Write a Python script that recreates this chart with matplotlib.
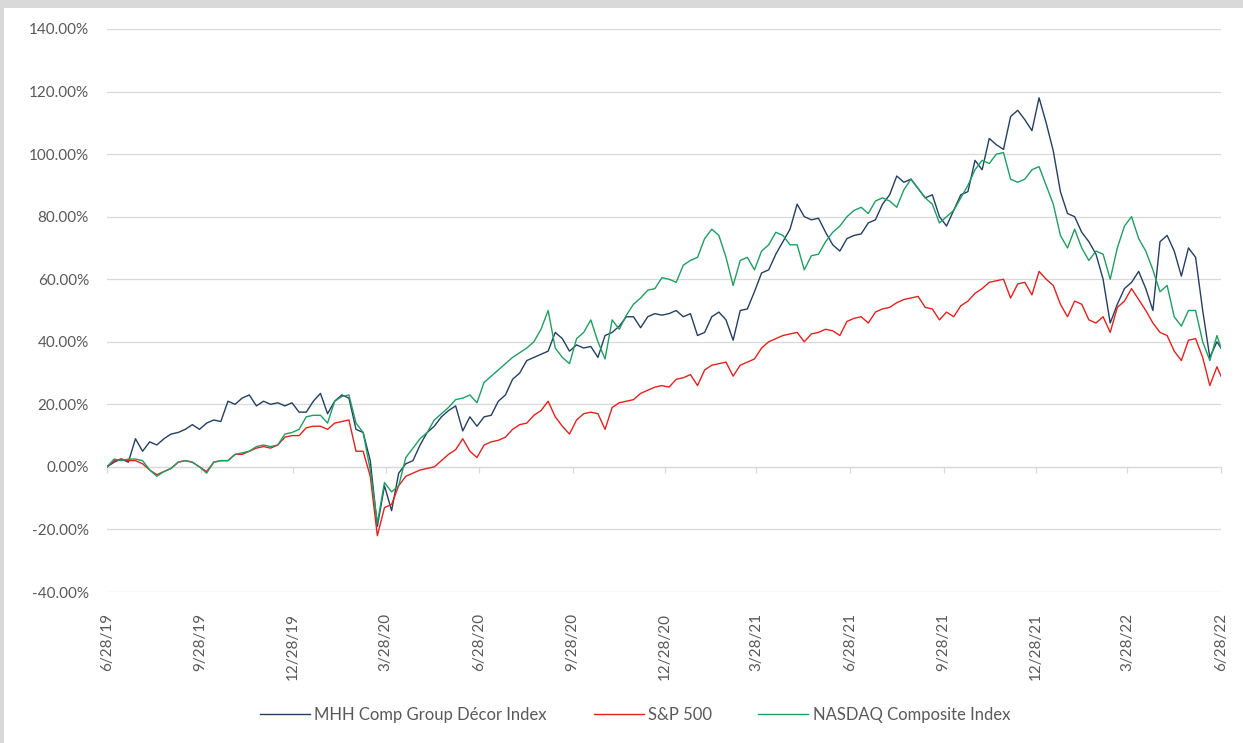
import matplotlib
matplotlib.use("Agg")
import matplotlib.pyplot as plt
from matplotlib.patches import Rectangle
from matplotlib.ticker import FuncFormatter, MultipleLocator
import pandas as pd

# Weekly observations from 6/28/2019, plus the closing point on 6/28/2022
dates = list(pd.date_range("2019-06-28", periods=157, freq="7D")) + [pd.Timestamp("2022-06-28")]

# Cumulative return (%) since 6/28/2019
mhh = [
    0, 1.5, 2.5, 1.5, 9, 5, 8, 7, 9, 10.5,
    11, 12, 13.5, 12, 14, 15, 14.5, 21, 20, 22,
    23, 19.5, 21, 20, 20.5, 19.5, 20.5, 17.5, 17.5, 21,
    23.5, 17, 21, 23, 22, 12, 11, 2, -19, -6,
    -14, -2, 1, 2, 7, 11, 13, 16, 18, 19.5,
    11.5, 16, 13, 16, 16.5, 21, 23, 28, 30, 34,
    35, 36, 37, 43, 41, 37, 39, 38, 38.5, 35,
    42, 43, 45, 48, 48, 44.5, 48, 49, 48.5, 49,
    50, 48, 49, 42, 43, 48, 49.5, 47, 40.5, 50,
    50.5, 56, 62, 63, 68, 72, 76, 84, 80, 79,
    79.5, 75, 71, 69, 73, 74, 74.5, 78, 79, 84,
    87, 93, 91, 92, 89, 86, 87, 80, 77, 82,
    87, 88, 98, 95, 105, 103, 101.5, 112, 114, 111,
    107.5, 118, 110, 101, 88, 81, 80, 75, 72, 68,
    60, 46, 52, 57, 59, 62.5, 57, 50, 72, 74,
    69, 61, 70, 67, 50, 35, 40, 38,
]

sp500 = [
    0, 2, 2.5, 2, 2, 1, -1, -2.5, -1.5, -0.5,
    1.5, 2, 1.5, 0, -1.5, 1.5, 2, 2, 4, 4,
    5, 6, 6.5, 6, 7, 9.5, 10, 10, 12.5, 13,
    13, 12, 14, 14.5, 15, 5, 5, -3, -22, -13,
    -12, -6, -3, -2, -1, -0.5, 0, 2, 4, 5.5,
    9, 5, 3, 7, 8, 8.5, 9.5, 12, 13.5, 14,
    16.5, 18, 21, 16, 13, 10.5, 15, 17, 17.5, 17,
    12, 19, 20.5, 21, 21.5, 23.5, 24.5, 25.5, 26, 25.5,
    28, 28.5, 29.5, 26, 31, 32.5, 33, 33.5, 29, 32.5,
    33.5, 34.5, 38, 40, 41, 42, 42.5, 43, 40, 42.5,
    43, 44, 43.5, 42, 46.5, 47.5, 48, 46, 49.5, 50.5,
    51, 52.5, 53.5, 54, 54.5, 51, 50.5, 47, 49.5, 48,
    51.5, 53, 55.5, 57, 59, 59.5, 60, 54, 58.5, 59,
    55, 62.5, 60, 58, 52, 48, 53, 52, 47, 46,
    48, 43, 51, 53, 57, 53.5, 50, 46, 43, 42,
    37, 34, 40.5, 41, 35, 26, 32, 29,
]

nasdaq = [
    0, 2.5, 2, 2.5, 2.5, 2, -1, -3, -1.5, -0.5,
    1.5, 2, 1.5, 0, -2, 1.5, 2, 2, 4, 4.5,
    5, 6.5, 7, 6.5, 7, 10.5, 11, 12, 16, 16.5,
    16.5, 14, 21, 22.5, 23, 14, 11, -1, -18, -5,
    -8, -6, 3, 6, 9, 11, 15, 17, 19, 21.5,
    22, 23, 20.5, 27, 29, 31, 33, 35, 36.5, 38,
    40, 44, 50, 38, 35, 33, 41, 43, 47, 40,
    34.5, 47, 44, 48.5, 52, 54, 56.5, 57, 60.5, 60,
    59, 64.5, 66, 67, 73, 76, 74, 67, 58, 66,
    67, 63, 69, 71, 75, 74, 71, 71, 63, 67.5,
    68, 72, 75, 77, 80, 82, 83, 81, 85, 86,
    85, 83, 88.6, 92, 89, 86, 84, 78, 80, 82,
    86, 90, 95, 98, 97, 100, 100.5, 92, 91, 92,
    95, 96, 90, 84, 74, 70, 76, 70, 66, 69,
    68, 60, 70, 77, 80, 73, 69, 63, 56, 58,
    48, 45, 50, 50, 40, 34, 42, 38,
]

series_names = ["MHH Comp Group Décor Index", "S&P 500", "NASDAQ Composite Index"]
series_colors = ["#243f63", "#e3211f", "#1f9e62"]

tick_dates = pd.to_datetime([
    "2019-06-28", "2019-09-28", "2019-12-28", "2020-03-28", "2020-06-28",
    "2020-09-28", "2020-12-28", "2021-03-28", "2021-06-28", "2021-09-28",
    "2021-12-28", "2022-03-28", "2022-06-28",
])
tick_labels = [
    "6/28/19", "9/28/19", "12/28/19", "3/28/20", "6/28/20", "9/28/20",
    "12/28/20", "3/28/21", "6/28/21", "9/28/21", "12/28/21", "3/28/22", "6/28/22",
]

plt.rcParams["font.family"] = ["Lato", "DejaVu Sans"]

fig = plt.figure(figsize=(12.43, 7.43), dpi=100, facecolor="#d9d9d9")
# white chart panel inside a thin grey frame on the top and left
fig.patches.append(Rectangle((4 / 1243, 0), 1 - 4 / 1243, 1 - 8 / 743,
                             transform=fig.transFigure, facecolor="white",
                             edgecolor="none", zorder=-5))

ax = fig.add_axes([107 / 1243, 1 - 592 / 743, (1221 - 107) / 1243, (592 - 29) / 743])
ax.set_facecolor("none")

for vals, name, col in zip([mhh, sp500, nasdaq], series_names, series_colors):
    ax.plot(dates, vals, color=col, lw=1.0, label=name, zorder=3)

ax.set_ylim(-40, 140)
ax.set_xlim(tick_dates[0], tick_dates[-1])
ax.yaxis.set_major_locator(MultipleLocator(20))
ax.yaxis.set_major_formatter(FuncFormatter(lambda v, p: f"{v:.2f}%"))
ax.grid(axis="y", color="#d9d9d9", lw=0.9, zorder=0)
for s in ax.spines.values():
    s.set_visible(False)

ax.set_xticks(tick_dates)
ax.set_xticklabels(tick_labels, rotation=90, ha="center", va="top")
ax.tick_params(axis="x", length=0, pad=15, labelsize=11, labelcolor="#595959")
ax.tick_params(axis="y", length=0, pad=13, labelsize=11, labelcolor="#595959")

# horizontal axis line through 0% with outward tick marks
zero_pos = (0 - (-40)) / (140 - (-40))
sec = ax.secondary_xaxis(zero_pos)
sec.set_xticks(tick_dates)
sec.set_xticklabels([])
sec.tick_params(axis="x", direction="out", length=4, color="#d9d9d9", width=0.9)
sec.spines["bottom"].set_color("#d9d9d9")
sec.spines["bottom"].set_linewidth(0.9)

fig.legend(loc="center", bbox_to_anchor=(0.511, 0.038), ncol=3, frameon=False,
           handlelength=3.0, columnspacing=2.8, handletextpad=0.25,
           fontsize=12, labelcolor="#595959")

fig.savefig("out.png", dpi=100, facecolor=fig.get_facecolor())
